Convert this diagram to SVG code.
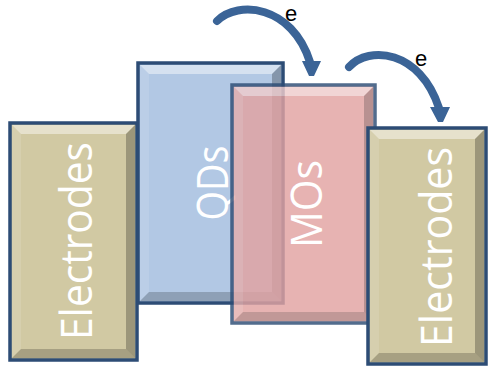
<svg xmlns="http://www.w3.org/2000/svg" width="488" height="366" viewBox="0 0 488 366">
<style>
.box{stroke:#2d4c75;stroke-width:3.5}
.el{fill:#d1c9a3}
.qd{fill:#b2c8e4}
.mo{fill:#e2a3a2}
.bt{fill:#fff;opacity:.45}
.bl{fill:#fff;opacity:.12}
.br{fill:#000;opacity:.25}
.bb{fill:#000;opacity:.2}
.lbl{font-family:"Open Sans","Liberation Sans",sans-serif;fill:#fff;text-anchor:middle}
.e{font-family:"Liberation Sans",Arial,sans-serif;fill:#000;font-size:22px}
.arr{fill:none;stroke:#3b6497;stroke-width:8;stroke-linecap:round}
.head{fill:#3b6497}
</style>
<rect width="488" height="366" fill="#fff"/>
<g id="electrodes-left">
<rect class="box el" x="10" y="123" width="127" height="237"/>
<polygon class="bt" points="12,125 135,125 126,134 21,134"/>
<polygon class="bl" points="12,125 21,134 21,349 12,358"/>
<polygon class="br" points="135,125 135,358 126,349 126,134"/>
<polygon class="bb" points="12,358 135,358 126,349 21,349"/>
<text class="lbl" font-size="44" textLength="198" lengthAdjust="spacingAndGlyphs" transform="translate(92,241) rotate(-90)">Electrodes</text>
</g>
<g id="qds">
<rect class="box qd" x="138" y="63" width="145" height="240"/>
<polygon class="bt" points="140,65 281,65 272,74 149,74"/>
<polygon class="bl" points="140,65 149,74 149,292 140,301"/>
<polygon class="br" points="281,65 281,301 272,292 272,74"/>
<polygon class="bb" points="140,301 281,301 272,292 149,292"/>
<text class="lbl" font-size="44" textLength="75" lengthAdjust="spacingAndGlyphs" transform="translate(228,183) rotate(-90)">QDs</text>
</g>
<g id="mos" opacity="0.82">
<rect class="box mo" x="232" y="85" width="143" height="238"/>
<polygon class="bt" points="234,87 373,87 364,96 243,96"/>
<polygon class="bl" points="234,87 243,96 243,312 234,321"/>
<polygon class="br" points="373,87 373,321 364,312 364,96"/>
<polygon class="bb" points="234,321 373,321 364,312 243,312"/>
</g>
<text id="mos-label" class="lbl" font-size="44" textLength="88" lengthAdjust="spacingAndGlyphs" transform="translate(322,204) rotate(-90)">MOs</text>
<g id="electrodes-right">
<rect class="box el" x="368" y="128" width="118" height="236"/>
<polygon class="bt" points="370,130 484,130 475,139 379,139"/>
<polygon class="bl" points="370,130 379,139 379,353 370,362"/>
<polygon class="br" points="484,130 484,362 475,353 475,139"/>
<polygon class="bb" points="370,362 484,362 475,353 379,353"/>
<text class="lbl" font-size="44" textLength="200" lengthAdjust="spacingAndGlyphs" transform="translate(452,247) rotate(-90)">Electrodes</text>
</g>
<g id="connectors">
<path class="arr" d="M217,21 C238,0 292,5 310,62"/>
<polygon class="head" points="302,61 321,61 314,76 309,76"/>
<text class="e" x="285" y="20.5">e</text>
<path class="arr" d="M349,67 C369,45 420,50 439,108"/>
<polygon class="head" points="430,107 450,107 443,122 438,122"/>
<text class="e" x="415" y="66">e</text>
</g>
</svg>
